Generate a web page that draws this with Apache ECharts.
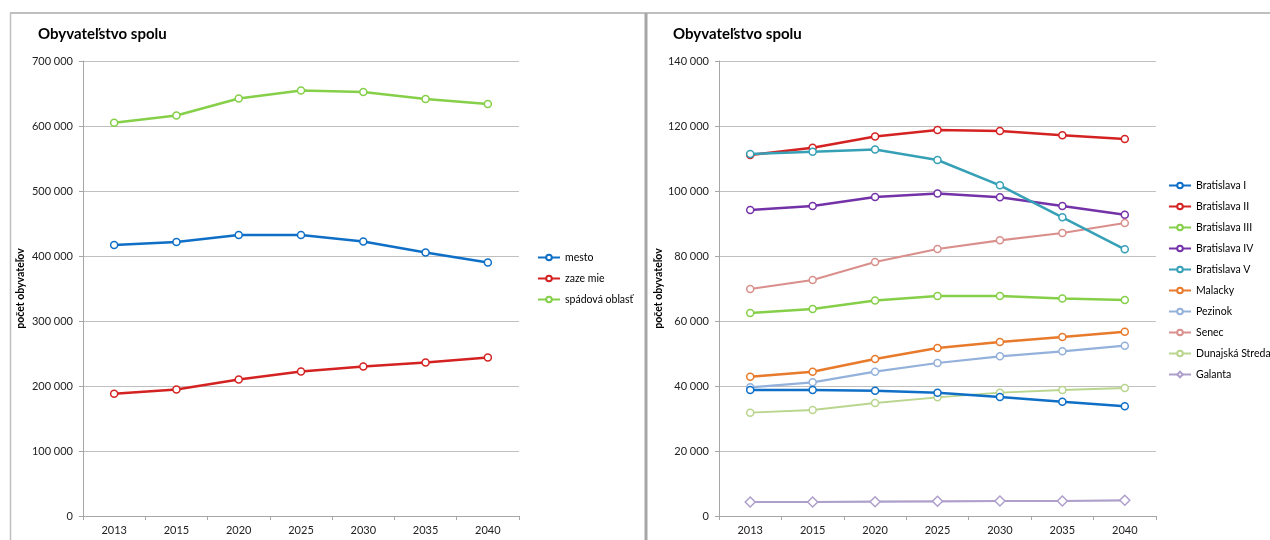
<!DOCTYPE html>
<html>
<head>
<meta charset="utf-8">
<script src="https://cdn.jsdelivr.net/npm/echarts@6/dist/echarts.min.js"></script>
<style>
  html, body { margin: 0; padding: 0; background: #fff; }
  #chart { width: 1270px; height: 540px; }
</style>
</head>
<body>
<div id="chart"></div>
<script>
// Years shown on both horizontal axes
const years = ['2013', '2015', '2020', '2025', '2030', '2035', '2040'];

// Left panel: city, hinterland and the whole catchment area
const mesto       = [416900, 421500, 432300, 432300, 422300, 405400, 390000];
const zazemie     = [188000, 194600, 210000, 222300, 230000, 236200, 243800];
const spadovaOblast = [604900, 616100, 642300, 654600, 652300, 641600, 633800];

// Right panel: districts
const bratislavaI   = [38770, 38770, 38550, 37940, 36600, 35170, 33750];
const bratislavaII  = [111080, 113330, 116770, 118770, 118460, 117140, 116000];
const bratislavaIII = [62460, 63690, 66310, 67690, 67690, 66920, 66460];
const bratislavaIV  = [94150, 95390, 98150, 99230, 98060, 95390, 92710];
const bratislavaV   = [111390, 112090, 112770, 109540, 101750, 91910, 82060];
const malacky       = [42860, 44400, 48310, 51690, 53540, 55080, 56710];
const pezinok       = [39600, 41140, 44400, 47080, 49140, 50680, 52400];
const senec         = [69850, 72620, 78150, 82150, 84830, 87080, 90150];
const dunajskaStreda = [31790, 32620, 34770, 36520, 37940, 38770, 39390];
const galanta       = [4310, 4310, 4400, 4520, 4620, 4620, 4830];

const titleText = 'Obyvateľstvo spolu';
const yName = 'počet obyvateľov';

const FONT = 'Lato, "Open Sans", sans-serif';

function spaced(v) {
  return String(v).replace(/\B(?=(\d{3})+(?!\d))/g, ' ');
}

function lineSeries(name, data, color, axisIdx, opts) {
  opts = opts || {};
  return {
    name: name,
    type: 'line',
    xAxisIndex: axisIdx,
    yAxisIndex: axisIdx,
    data: data,
    symbol: opts.symbol || 'circle',
    symbolSize: opts.symbolSize || 7,
    showAllSymbol: true,
    lineStyle: { color: color, width: opts.width || 2.5 },
    itemStyle: { color: '#fff', borderColor: color, borderWidth: 1.5 },
    emphasis: { disabled: true },
    z: opts.z || 2
  };
}

function xAxisFor(gridIndex) {
  return {
    type: 'category',
    gridIndex: gridIndex,
    data: years,
    boundaryGap: true,
    axisLine: { lineStyle: { color: '#a6a6a6', width: 1 } },
    axisTick: { show: true, length: 4, inside: false, lineStyle: { color: '#a6a6a6' } },
    axisLabel: { color: '#222', fontFamily: FONT, fontSize: 11, margin: 9 }
  };
}

function yAxisFor(gridIndex, max, interval, gap) {
  return {
    type: 'value',
    gridIndex: gridIndex,
    min: 0,
    max: max,
    interval: interval,
    name: yName,
    nameLocation: 'middle',
    nameRotate: 90,
    nameGap: gap,
    nameTextStyle: { color: '#000', fontFamily: FONT, fontSize: 10.5, fontWeight: 'bold' },
    axisLine: { show: true, lineStyle: { color: '#a6a6a6', width: 1 } },
    axisTick: { show: true, length: 4, lineStyle: { color: '#a6a6a6' } },
    axisLabel: { color: '#222', fontFamily: FONT, fontSize: 11, margin: 10, formatter: spaced },
    splitLine: { show: true, lineStyle: { color: '#c0c0c0', width: 1 } }
  };
}

const legendText = { color: '#000', fontFamily: FONT, fontSize: 10.5 };

const chart = echarts.init(document.getElementById('chart'), null, { renderer: 'canvas' });

chart.setOption({
  animation: false,
  backgroundColor: '#fff',
  title: [
    { text: titleText, left: 33, top: 22, textStyle: { fontFamily: FONT, fontSize: 15, fontWeight: 'bold', color: '#000' } },
    { text: titleText, left: 668, top: 22, textStyle: { fontFamily: FONT, fontSize: 15, fontWeight: 'bold', color: '#000' } }
  ],
  grid: [
    { left: 83, top: 61, width: 436, height: 455 },
    { left: 719, top: 61, width: 437, height: 455 }
  ],
  xAxis: [xAxisFor(0), xAxisFor(1)],
  yAxis: [yAxisFor(0, 700000, 100000, 57), yAxisFor(1, 140000, 20000, 54)],
  legend: [
    {
      orient: 'vertical', left: 532, top: 247,
      itemWidth: 22, itemHeight: 7, itemGap: 10,
      textStyle: legendText,
      data: ['mesto', 'zaze mie', 'spádová oblasť']
    },
    {
      orient: 'vertical', left: 1163, top: 175,
      itemWidth: 22, itemHeight: 7, itemGap: 10,
      textStyle: legendText,
      data: ['Bratislava I', 'Bratislava II', 'Bratislava III', 'Bratislava IV', 'Bratislava V',
             'Malacky', 'Pezinok', 'Senec', 'Dunajská Streda', 'Galanta']
    }
  ],
  graphic: [
    // panel frames
    { type: 'line', shape: { x1: 10, y1: 13, x2: 1270, y2: 13 }, style: { stroke: '#bfbfbf', lineWidth: 2 }, silent: true },
    { type: 'line', shape: { x1: 10.5, y1: 13, x2: 10.5, y2: 540 }, style: { stroke: '#bfbfbf', lineWidth: 1.5 }, silent: true },
    { type: 'line', shape: { x1: 646, y1: 13, x2: 646, y2: 540 }, style: { stroke: '#a6a6a6', lineWidth: 3 }, silent: true }
  ],
  series: [
    lineSeries('mesto', mesto, '#0f6fc6', 0),
    lineSeries('zaze mie', zazemie, '#d42222', 0),
    lineSeries('spádová oblasť', spadovaOblast, '#86cf49', 0),

    lineSeries('Bratislava I', bratislavaI, '#0f6fc6', 1, { z: 4 }),
    lineSeries('Bratislava II', bratislavaII, '#d42222', 1),
    lineSeries('Bratislava III', bratislavaIII, '#86cf49', 1),
    lineSeries('Bratislava IV', bratislavaIV, '#7432a8', 1),
    lineSeries('Bratislava V', bratislavaV, '#35a0b6', 1, { z: 3 }),
    lineSeries('Malacky', malacky, '#e87a2c', 1),
    lineSeries('Pezinok', pezinok, '#93b1da', 1, { width: 2.2 }),
    lineSeries('Senec', senec, '#d98f8c', 1, { width: 2.2 }),
    lineSeries('Dunajská Streda', dunajskaStreda, '#b9d58e', 1, { width: 1.8 }),
    lineSeries('Galanta', galanta, '#ae9fcb', 1, { symbol: 'diamond', symbolSize: 10, width: 2.2 })
  ]
});
</script>
</body>
</html>
